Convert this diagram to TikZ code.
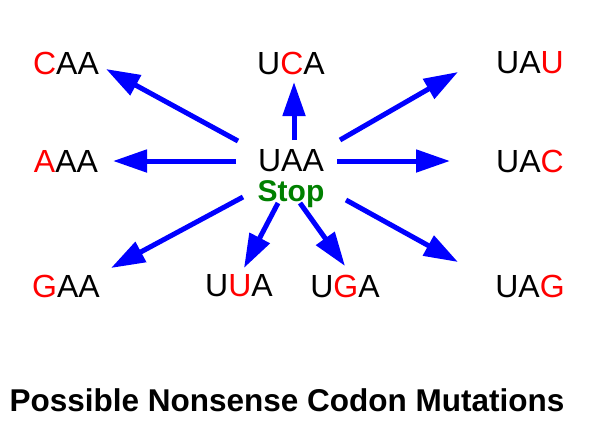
\documentclass[tikz,border=0pt]{standalone}
\usepackage{fontspec}
\setmainfont{Liberation Sans}
\usetikzlibrary{arrows.meta}
\definecolor{stopgreen}{RGB}{0,128,0}
\definecolor{mutblue}{RGB}{0,0,255}
\newcommand{\mut}[1]{\textcolor{red}{#1}}

\begin{document}
\begin{tikzpicture}[
  x=1pt, y=-1pt,
  codon/.style={font=\fontsize{32}{36}\selectfont, inner sep=0pt},
  arrow/.style={-{Triangle[length=34pt,width=22pt]}, line width=5pt, draw=mutblue}
]
  \useasboundingbox (0,0) rectangle (596,432);

  % codons
  \node[codon] (caa) at (66,63) {\mut{C}AA};
  \node[codon] (uca) at (291,63) {U\mut{C}A};
  \node[codon] (uau) at (530,63) {UA\mut{U}};
  \node[codon] (aaa) at (66,161) {\mut{A}AA};
  \node[codon] (uaa) at (291,161) {UAA};
  \node[codon] (uac) at (530,161) {UA\mut{C}};
  \node[codon] (gaa) at (66,286) {\mut{G}AA};
  \node[codon] (uua) at (239,286) {U\mut{U}A};
  \node[codon] (uga) at (345,286) {U\mut{G}A};
  \node[codon] (uag) at (530,286) {UA\mut{G}};
  \node[font=\fontsize{30}{33}\selectfont\bfseries, text=stopgreen, inner sep=0pt] (stop) at (291,194) {Stop};

  \node[font=\fontsize{31.5}{34}\selectfont\bfseries, inner sep=0pt] (title) at (287,400) {Possible Nonsense Codon Mutations};

  % arrow ends
  \coordinate (s-caa) at (238,141); \coordinate (t-caa) at (106,69);
  \coordinate (s-uca) at (294,140); \coordinate (t-uca) at (294,82);
  \coordinate (s-uau) at (340,140); \coordinate (t-uau) at (458,72);
  \coordinate (s-aaa) at (236,161); \coordinate (t-aaa) at (113,161);
  \coordinate (s-uac) at (337,161); \coordinate (t-uac) at (450,161);
  \coordinate (s-gaa) at (243,197); \coordinate (t-gaa) at (111,268);
  \coordinate (s-uua) at (278,203); \coordinate (t-uua) at (244,268);
  \coordinate (s-uga) at (300,203); \coordinate (t-uga) at (345,266);
  \coordinate (s-uag) at (346,200); \coordinate (t-uag) at (458,262);

  \foreach \c in {caa,uca,uau,aaa,uac,gaa,uua,uga,uag}
    \draw[arrow] (s-\c) -- (t-\c);
\end{tikzpicture}
\end{document}
